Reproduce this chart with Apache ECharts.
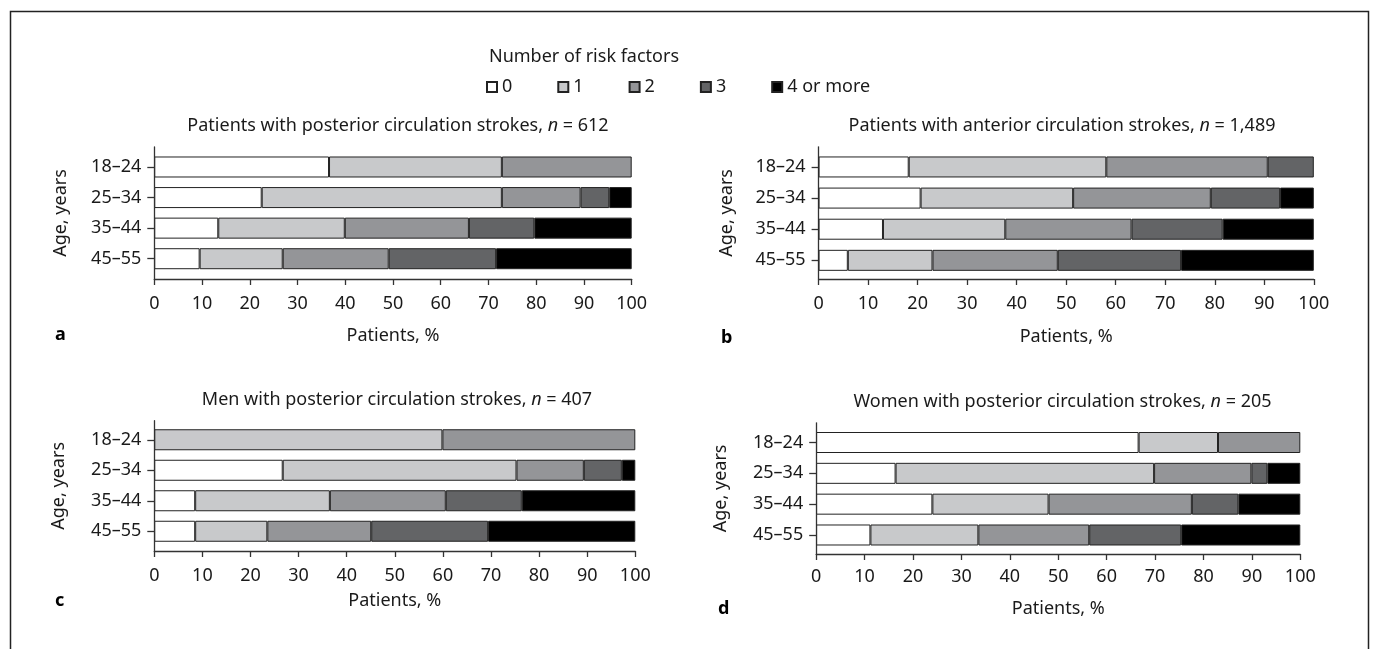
<!DOCTYPE html>
<html>
<head>
<meta charset="utf-8">
<script src="https://cdn.jsdelivr.net/npm/echarts@6/dist/echarts.min.js"></script>
<style>
html,body{margin:0;padding:0;background:#fff;}
#chart{width:1376px;height:649px;}
</style>
</head>
<body>
<div id="chart"></div>
<script>
// ---- data ----
const ageGroups = ['18–24', '25–34', '35–44', '45–55'];
const riskLabels = ['0', '1', '2', '3', '4 or more'];
// each inner array: one risk-factor count, values per age group (%)
const posteriorAll = [
  [36.6, 22.5, 13.4, 9.5],
  [36.2, 50.3, 26.5, 17.4],
  [27.2, 16.5, 26.0, 22.2],
  [0, 6.0, 13.7, 22.5],
  [0, 4.7, 20.4, 28.4]
];
const anteriorAll = [
  [18.2, 20.6, 13.0, 5.9],
  [39.9, 30.8, 24.7, 17.1],
  [32.6, 27.8, 25.5, 25.3],
  [9.3, 14.0, 18.4, 24.9],
  [0, 6.8, 18.4, 26.8]
];
const posteriorMen = [
  [0, 26.7, 8.5, 8.5],
  [59.9, 48.6, 28.0, 15.0],
  [40.1, 14.0, 24.1, 21.6],
  [0, 7.9, 15.8, 24.3],
  [0, 2.8, 23.6, 30.6]
];
const posteriorWomen = [
  [66.6, 16.4, 24.0, 11.2],
  [16.4, 53.4, 24.0, 22.3],
  [17.0, 20.1, 29.6, 22.9],
  [0, 3.3, 9.6, 19.0],
  [0, 6.8, 12.8, 24.6]
];
const xMin = 0, xMax = 100, xInterval = 10;

// ---- styling / layout ----
const FONT = 'Noto Sans';
const FS = 18;
const TXT = '#1a1a1a';
const fills = ['#ffffff', '#c8c9cb', '#949598', '#636466', '#000000'];

const panels = [
  {data: posteriorAll, title: 'Patients with posterior circulation strokes, {i|n} = 612', letter: 'a',
   left: 154.3, width: 477.4, axTop: 147, axBottom: 279, barTop: 151.7, barBottom: 274,
   tx: 393, ty: 124, lx: 50, ly: 333, gapX: 48, gapY: 84, lm: 16},
  {data: anteriorAll, title: 'Patients with anterior circulation strokes, {i|n} = 1,489', letter: 'b',
   left: 818.6, width: 495.2, axTop: 146.8, axBottom: 279, barTop: 151.4, barBottom: 275.9,
   tx: 1057, ty: 124, lx: 716, ly: 336, gapX: 49, gapY: 83, lm: 16},
  {data: posteriorMen, title: 'Men with posterior circulation strokes, {i|n} = 407', letter: 'c',
   left: 154.3, width: 481, axTop: 420.7, axBottom: 551, barTop: 424.5, barBottom: 546.5,
   tx: 392, ty: 397.5, lx: 50, ly: 599, gapX: 41, gapY: 86, lm: 16},
  {data: posteriorWomen, title: 'Women with posterior circulation strokes, {i|n} = 205', letter: 'd',
   left: 816.2, width: 484.1, axTop: 422.8, axBottom: 554, barTop: 427.1, barBottom: 550.4,
   tx: 1057.5, ty: 400, lx: 713, ly: 607, gapX: 46, gapY: 86, lm: 14}
];

const H = 649;
const grid = [], xAxis = [], yAxis = [], series = [];
const titles = [{
  text: 'Number of risk factors', left: 579, top: 43, textAlign: 'center',
  textStyle: {fontFamily: FONT, fontSize: FS, fontWeight: 'normal', color: TXT}
}];

panels.forEach((p, i) => {
  const ga = 2 * i, gb = 2 * i + 1;
  grid.push({left: p.left, width: p.width, top: p.axTop, height: p.axBottom - p.axTop});
  grid.push({left: p.left, width: p.width, top: p.barTop, height: p.barBottom - p.barTop});
  xAxis.push({
    gridIndex: ga, type: 'value', min: xMin, max: xMax, interval: xInterval,
    name: 'Patients, %', nameLocation: 'middle', nameGap: p.gapX,
    nameTextStyle: {fontFamily: FONT, fontSize: FS, color: TXT},
    axisLine: {show: true, lineStyle: {color: '#333', width: 1.3}},
    axisTick: {show: true, length: 6, lineStyle: {color: '#333', width: 1.3}},
    axisLabel: {margin: p.lm, fontFamily: FONT, fontSize: FS, color: TXT},
    splitLine: {show: false}
  });
  xAxis.push({gridIndex: gb, type: 'value', min: xMin, max: xMax, show: false});
  yAxis.push({
    gridIndex: ga, type: 'value', min: 0, max: 1,
    name: 'Age, years', nameLocation: 'middle', nameRotate: 90, nameGap: p.gapY,
    nameTextStyle: {fontFamily: FONT, fontSize: FS, color: TXT},
    axisLine: {show: true, lineStyle: {color: '#333', width: 1.3}},
    axisTick: {show: false}, axisLabel: {show: false}, splitLine: {show: false}
  });
  yAxis.push({
    gridIndex: gb, type: 'category', data: ageGroups, inverse: true,
    axisLine: {show: false},
    axisTick: {show: true, alignWithLabel: true, length: 7, lineStyle: {color: '#333', width: 1.3}},
    axisLabel: {margin: 13, fontFamily: FONT, fontSize: FS, color: TXT},
    splitLine: {show: false}
  });
  riskLabels.forEach((name, k) => {
    series.push({
      type: 'bar', name: name, stack: 'p' + i,
      xAxisIndex: gb, yAxisIndex: gb,
      data: p.data[k].map(v => v === 0 ? '-' : v),
      barWidth: 21,
      itemStyle: {color: fills[k], borderColor: '#222', borderWidth: 1},
      silent: true
    });
  });
  titles.push({
    text: p.title, left: p.tx, top: p.ty - 12, textAlign: 'center',
    textStyle: {fontFamily: FONT, fontSize: FS, fontWeight: 'normal', color: TXT,
      rich: {i: {fontFamily: FONT, fontSize: FS, fontStyle: 'italic', color: TXT}}}
  });
  titles.push({
    text: p.letter, left: p.lx, top: p.ly - 12,
    textStyle: {fontFamily: FONT, fontSize: 18, fontWeight: 'bold', color: '#000'}
  });
});

const chart = echarts.init(document.getElementById('chart'), null, {renderer: 'canvas'});
chart.setOption({
  animation: false,
  backgroundColor: '#ffffff',
  title: titles,
  legend: {
    data: riskLabels, left: 481, top: 73, icon: 'rect',
    itemWidth: 10, itemHeight: 10, itemGap: 45,
    textStyle: {fontFamily: FONT, fontSize: FS, color: TXT},
    selectedMode: false
  },
  grid: grid, xAxis: xAxis, yAxis: yAxis, series: series,
  graphic: [{
    type: 'rect', silent: true,
    shape: {x: 10.5, y: 11.5, width: 1358, height: H + 20},
    style: {fill: 'none', stroke: '#222', lineWidth: 1.5}
  }]
});
</script>
</body>
</html>
